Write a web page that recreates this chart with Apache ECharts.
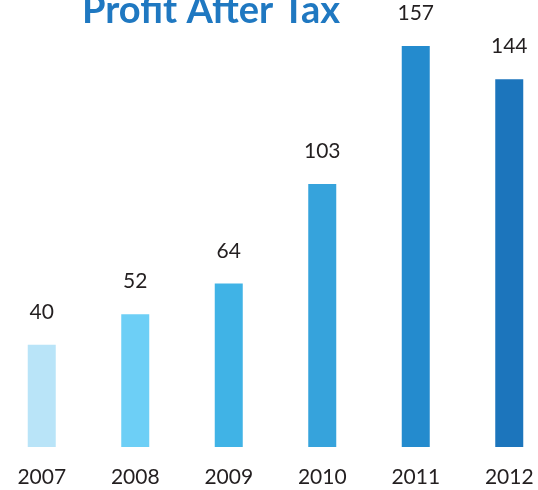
<!DOCTYPE html>
<html>
<head>
<meta charset="utf-8">
<script src="https://cdn.jsdelivr.net/npm/echarts@6/dist/echarts.min.js"></script>
<style>
  * { margin: 0; padding: 0; }
  #chart-container { width: 538px; height: 490px; background: #fff; }
</style>
</head>
<body>
<div id="chart-container"></div>
<script>
// data
const years = ['2007', '2008', '2009', '2010', '2011', '2012'];
const profit = [40, 52, 64, 103, 157, 144];
const barColors = ['#b9e4f8', '#6dcff6', '#40b3e6', '#36a3dc', '#248bce', '#1c75bc'];

const dom = document.getElementById('chart-container');
const myChart = echarts.init(dom, null, { renderer: 'canvas' });

const option = {
    animation: false,
    title: {
        text: 'Profit After Tax',
        left: 77,
        top: -13,
        textStyle: {
            fontFamily: 'Lato',
            fontWeight: 'bold',
            fontSize: 38,
            color: '#1f78c1'
        }
    },
    grid: {
        left: -5,
        right: -18,
        top: 0,
        bottom: 43,
        outerBoundsMode: 'none',
        containLabel: false
    },
    xAxis: {
        type: 'category',
        data: years,
        axisLine: { show: false },
        axisTick: { show: false },
        axisLabel: {
            margin: 20,
            fontSize: 21,
            fontFamily: 'Lato',
            color: '#231f20'
        }
    },
    yAxis: {
        type: 'value',
        min: 0,
        max: 175,
        show: false,
        splitLine: { show: false }
    },
    series: [{
        type: 'bar',
        barWidth: 28,
        data: profit.map((v, i) => ({ value: v, itemStyle: { color: barColors[i] } })),
        label: {
            show: true,
            position: 'top',
            distance: 22,
            fontSize: 21,
            fontFamily: 'Lato',
            color: '#231f20'
        }
    }]
};

myChart.setOption(option);
window.addEventListener('resize', () => myChart.resize());
</script>
</body>
</html>
